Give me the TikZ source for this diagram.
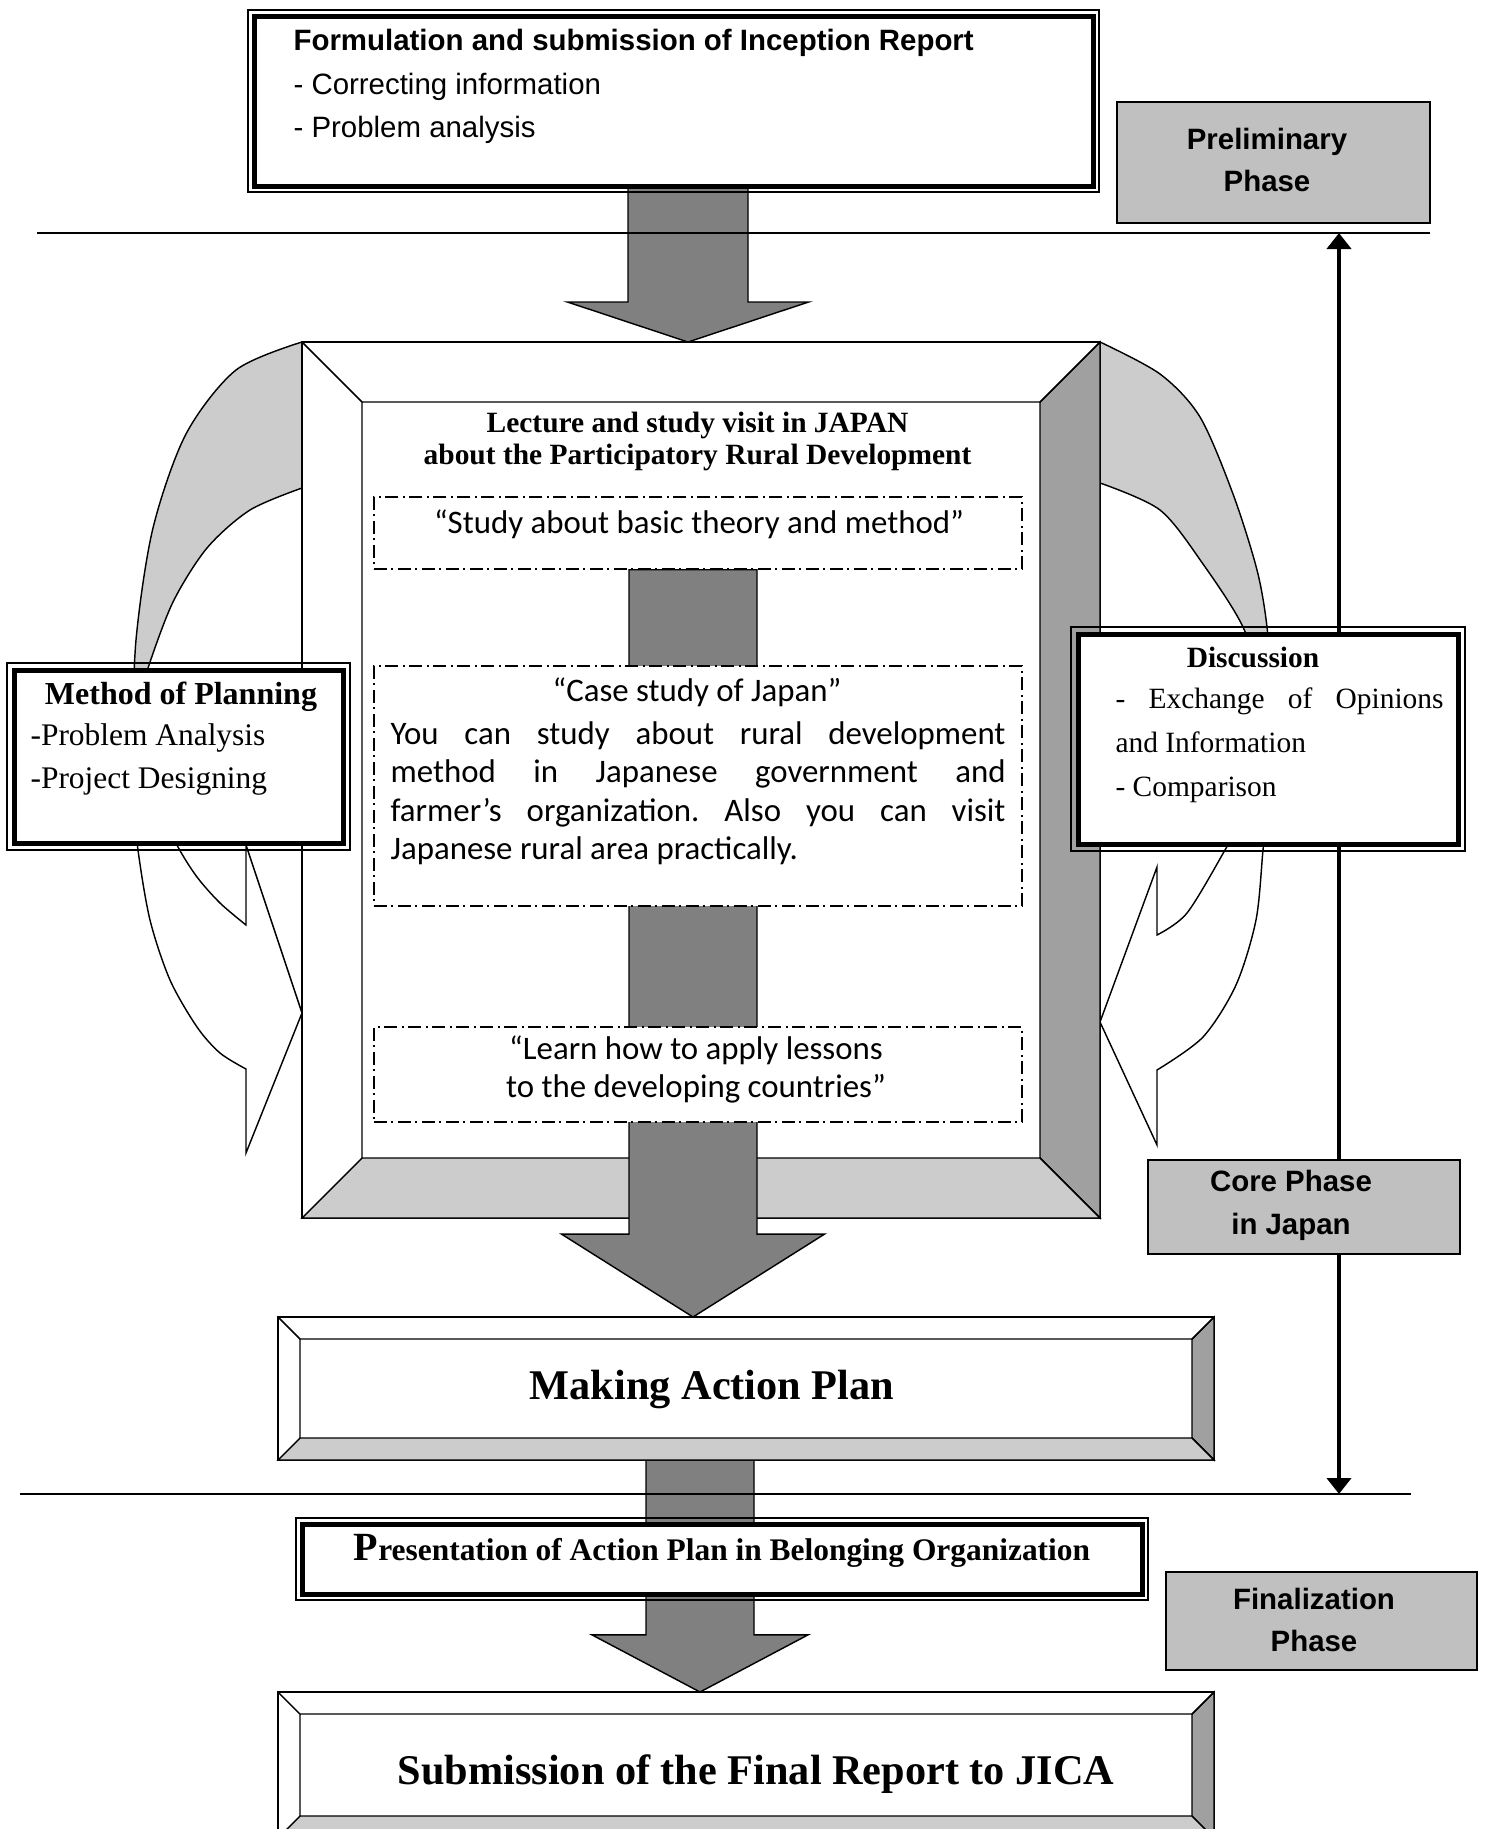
\documentclass[tikz,border=0pt]{standalone}
\usepackage{fontspec}
\setmainfont{Liberation Serif}
\setsansfont{Liberation Sans}
\newfontfamily\calibri{Carlito}
\usepackage{tikz}
\usetikzlibrary{calc,arrows.meta}

\pgfdeclarelayer{base}
\pgfdeclarelayer{arrows}
\pgfsetlayers{base,arrows,main}

\definecolor{arrowgray}{HTML}{808080}
\definecolor{bevdark}{HTML}{A0A0A0}
\definecolor{bevlight}{HTML}{CCCCCC}
\definecolor{phasegray}{HTML}{C0C0C0}
\definecolor{bandgray}{HTML}{CCCCCC}

% thin outer line round a box with a thick border
\newcommand{\rim}[2]{%
  \draw[line width=0.5pt] ([shift={(-#2,#2)}]#1.north west) rectangle ([shift={(#2,-#2)}]#1.south east);}

% shaded sides of a bevelled box
\newcommand{\bevelfaces}[2]{%
  \draw[facedark] (#1.north east) -- (#1.south east) -- ([shift={(-#2,#2)}]#1.south east) -- ([shift={(-#2,-#2)}]#1.north east) -- cycle;
  \draw[facelight] (#1.south west) -- (#1.south east) -- ([shift={(-#2,#2)}]#1.south east) -- ([shift={(#2,#2)}]#1.south west) -- cycle;
  \draw[faceline] (#1.north west) -- ([shift={(#2,-#2)}]#1.north west) -- ([shift={(-#2,-#2)}]#1.north east)
    ([shift={(#2,-#2)}]#1.north west) -- ([shift={(#2,#2)}]#1.south west)
    (#1.north east) -- ([shift={(-#2,-#2)}]#1.north east);}

% broad grey arrow: tail, tip, half shaft, half head, head length
\newcommand{\blockarrow}[5]{%
  \draw[blockarr] let \p1=#1, \p2=#2 in
    (\x2-#3,\y1) -- (\x2-#3,\y2+#5) -- (\x2-#4,\y2+#5) -- (\x2,\y2)
    -- (\x2+#4,\y2+#5) -- (\x2+#3,\y2+#5) -- (\x2+#3,\y1) -- cycle;}

\begin{document}
\frenchspacing
\begin{tikzpicture}[x=0.35pt,y=-0.35pt,
    sepline/.style={line width=0.5pt},
    band/.style={draw,line width=0.5pt},
    bevbox/.style={draw,fill=white,line width=0.5pt,inner sep=0pt,outer sep=0pt},
    facedark/.style={draw,line width=0.5pt,fill=bevdark},
    facelight/.style={draw,line width=0.5pt,fill=bevlight},
    faceline/.style={line width=0.5pt},
    dblbox/.style={draw,fill=white,line width=1.75pt,inner sep=0pt,outer sep=0pt},
    dashbox/.style={draw,fill=white,line width=0.45pt,dash pattern=on 4.5pt off 1.6pt on 0.7pt off 1.6pt,inner sep=0pt},
    phasebox/.style={draw,fill=phasegray,line width=0.6pt,inner sep=0pt},
    blockarr/.style={draw,fill=arrowgray,line width=0.5pt},
    phasearr/.style={line width=1.4pt,{Triangle[width=8.4pt,length=5.6pt]}-{Triangle[width=8.4pt,length=5.6pt]}},
    txt/.style={inner sep=0pt},
    sansb/.style={txt,font=\sffamily\bfseries\fontsize{10.3}{15}\selectfont},
    sans/.style={txt,font=\sffamily\fontsize{10.3}{15}\selectfont},
    phasetxt/.style={sansb,align=center},
    serb/.style={txt,font=\bfseries\fontsize{10.3}{15}\selectfont},
    ser/.style={txt,font=\fontsize{10.3}{15.4}\selectfont},
    cal/.style={txt,font=\calibri\fontsize{11.5}{13.5}\selectfont},
    bigtxt/.style={txt,font=\bfseries\fontsize{14.8}{16}\selectfont}]
  \useasboundingbox (0,0) rectangle (1487,1829);

  \begin{pgfonlayer}{base}
    % curved arrow on the left
    \draw[band,fill=bandgray] plot[smooth] coordinates {(302,342) (236,370) (186,434) (153,528) (136,640) (132,755)}
      -- plot[smooth] coordinates {(132,755) (140,700) (148,668) (173,602) (207,548) (250,510) (302,488)} -- cycle;
    \draw[band,fill=white] plot[smooth] coordinates {(132,755) (134,800) (138,850) (150,920) (170,980) (197,1027) (220,1053) (246,1069)}
      -- (246,1153) -- (302,1013) -- (246,845) -- (246,925)
      -- plot[smooth] coordinates {(246,925) (220,903) (197,877) (178,847) (158,805) (132,755)} -- cycle;
    % curved arrow on the right
    \draw[band,fill=bandgray] plot[smooth] coordinates {(1100,342) (1160,374) (1200,417) (1233,494) (1257,570) (1267,627) (1271,690) (1270,745)}
      -- plot[smooth] coordinates {(1270,745) (1262,690) (1243,627) (1203,564) (1160,510) (1100,483)} -- cycle;
    \draw[band,fill=white] plot[smooth] coordinates {(1270,745) (1268,800) (1263,850) (1256,920) (1236,985) (1203,1037) (1157,1070)}
      -- (1157,1145) -- (1100,1022) -- (1157,867) -- (1157,935)
      -- plot[smooth] coordinates {(1157,935) (1187,913) (1225,850) (1252,800) (1270,745)} -- cycle;
    % the big frame
    \node[bevbox,minimum width=279.3pt,minimum height=306.6pt] (frame) at (701,780) {};
    \bevelfaces{frame}{21pt}
  \end{pgfonlayer}

  % inception report
  \node[dblbox,minimum width=293.65pt,minimum height=59.5pt] (incep) at (673.5,101) {};
  \rim{incep}{2.1pt}
  \node[sansb,anchor=base west] (incep-a) at (293,50.5) {Formulation and submission of Inception Report};
  \node[sans,anchor=base west] (incep-b) at (293,94) {- Correcting information};
  \node[sans,anchor=base west] (incep-c) at (293,137.5) {- Problem analysis};

  % phase labels
  \node[phasebox,minimum width=109.55pt,minimum height=42.35pt] (prelim) at (1273.5,162.5) {};
  \node[phasetxt] (prelim-t) at (1267,160) {Preliminary\\Phase};

  % lecture in japan
  \node[serb,anchor=base] (lect-a) at (697.5,432.7) {Lecture and study visit in JAPAN};
  \node[serb,anchor=base] (lect-b) at (697.5,464.7) {about the Participatory Rural Development};

  \node[dashbox,minimum width=226.8pt,minimum height=25.2pt] (study) at (698,533) {};
  \node[cal,anchor=base] (study-t) at (699,533) {“Study about basic theory and method”};

  \node[dashbox,minimum width=226.8pt,minimum height=84pt] (case) at (698,786) {};
  \node[cal,anchor=base] (case-t) at (697,701.5) {“Case study of Japan”};
  \node[cal,anchor=north west,text width=215.25pt,align=justify] (case-p) at (390,716.5)
    {\strut You can study about rural development\linebreak method in Japanese government and\linebreak farmer’s organization. Also you can visit\linebreak Japanese rural area practically.};

  \node[dashbox,minimum width=226.8pt,minimum height=33.25pt] (learn) at (698,1074.5) {};
  \node[cal,anchor=base] (learn-a) at (696,1059.5) {“Learn how to apply lessons};
  \node[cal,anchor=base] (learn-b) at (696,1097.5) {to the developing countries”};

  % action plan and final report
  \node[bevbox,minimum width=327.6pt,minimum height=50.05pt] (making) at (746,1388.5) {};
  \bevelfaces{making}{7.7pt}
  \node[bigtxt,anchor=base] (making-t) at (712,1399) {Making Action Plan};

  \node[dblbox,minimum width=294pt,minimum height=24.5pt] (present) at (722,1559) {};
  \rim{present}{2.1pt}
  \node[txt,font=\bfseries\fontsize{11}{13}\selectfont,anchor=base] (present-t) at (722,1560.6)
    {{\fontsize{14}{14}\selectfont P}resentation of Action Plan in Belonging Organization};

  \node[bevbox,minimum width=327.6pt,minimum height=51.1pt] (submit) at (746,1765) {};
  \bevelfaces{submit}{7.7pt}
  \node[bigtxt,anchor=base] (submit-t) at (756,1784) {Submission of the Final Report to JICA};

  % grey block arrows
  \begin{pgfonlayer}{arrows}
    \blockarrow{(incep.south)}{(688,0 |- frame.north)}{21pt}{42.2pt}{14pt}
    \blockarrow{(study.south)}{(693,0 |- making.north)}{22.4pt}{46pt}{29pt}
    \blockarrow{(making.south)}{(700,0 |- submit.north)}{18.9pt}{37.8pt}{20pt}
  \end{pgfonlayer}

  % the separating lines
  \coordinate (sep1w) at (37,233);
  \coordinate (sep1e) at (1430,233);
  \coordinate (sep2w) at (20,1494);
  \coordinate (sep2e) at (1411,1494);
  \draw[sepline] (sep1w) -- (sep1e);
  \draw[sepline] (sep2w) -- (sep2e);
  \draw[phasearr] (1339,0 |- sep1e) -- (1339,0 |- sep2e);

  % side boxes
  \node[dblbox,minimum width=115.15pt,minimum height=60.55pt] (method) at (178.5,756.5) {};
  \rim{method}{2.45pt}
  \node[txt,font=\bfseries\fontsize{11.2}{13}\selectfont,anchor=base] (method-t) at (181,704.6) {Method of Planning};
  \node[txt,font=\fontsize{11}{13}\selectfont,anchor=base west] (method-a) at (30,745.6) {-Problem Analysis};
  \node[txt,font=\fontsize{11}{13}\selectfont,anchor=base west] (method-b) at (30,788.6) {-Project Designing};

  \node[dblbox,minimum width=133pt,minimum height=73.5pt] (discuss) at (1268,739) {};
  \rim{discuss}{2.45pt}
  \node[serb,anchor=base] (discuss-t) at (1253,667) {Discussion};
  \node[ser,anchor=north west,text width=114.8pt,align=justify] (discuss-p) at (1115,677)
    {\strut - Exchange of Opinions\linebreak and Information\newline - Comparison};

  \node[phasebox,minimum width=109.2pt,minimum height=32.9pt] (core) at (1304,1207) {};
  \node[phasetxt] (core-t) at (1291,1205) {Core Phase\\in Japan};
  \node[phasebox,minimum width=108.85pt,minimum height=34.3pt] (final) at (1321.5,1621) {};
  \node[phasetxt] (final-t) at (1314,1620) {Finalization\\Phase};
\end{tikzpicture}
\end{document}
